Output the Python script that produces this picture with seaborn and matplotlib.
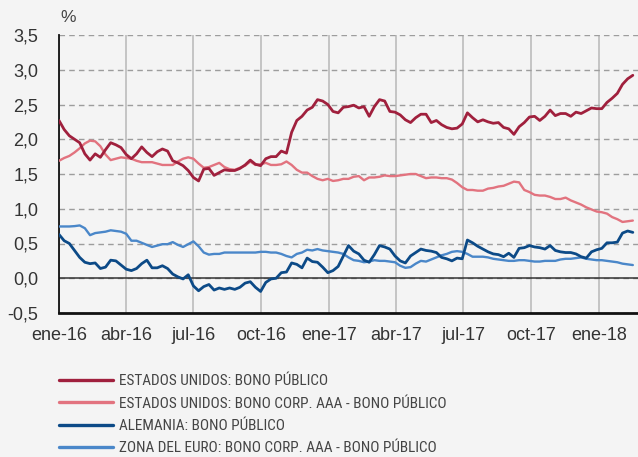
import numpy as np
import pandas as pd
import matplotlib
matplotlib.use("Agg")
import matplotlib.pyplot as plt
from matplotlib import font_manager as fm
import seaborn as sns

# ---------------- data (weekly readings, % ) ----------------
start_date = "2016-01-01"
n_weeks = 112

us_gov = [2.27, 2.14, 2.05, 2.00, 1.95, 1.79, 1.70, 1.79, 1.74, 1.85, 1.95, 1.92, 1.88, 1.78, 1.72, 1.79,
          1.89, 1.81, 1.75, 1.82, 1.86, 1.83, 1.69, 1.66, 1.62, 1.55, 1.45, 1.40, 1.57, 1.58, 1.48,
          1.52, 1.56, 1.55, 1.55, 1.58, 1.63, 1.70, 1.64, 1.62, 1.72, 1.75, 1.75, 1.83, 1.80, 2.10,
          2.27, 2.33, 2.42, 2.46, 2.57, 2.55, 2.50, 2.40, 2.38, 2.46, 2.47, 2.49, 2.45, 2.47, 2.33,
          2.47, 2.57, 2.55, 2.40, 2.39, 2.35, 2.28, 2.24, 2.31, 2.36, 2.36, 2.24, 2.27, 2.21, 2.17,
          2.15, 2.16, 2.22, 2.38, 2.31, 2.25, 2.28, 2.25, 2.23, 2.24, 2.17, 2.15, 2.07, 2.18, 2.24,
          2.32, 2.33, 2.27, 2.33, 2.42, 2.34, 2.37, 2.37, 2.33, 2.39, 2.37, 2.41, 2.45, 2.44, 2.44,
          2.53, 2.59, 2.66, 2.79, 2.87, 2.92]

us_corp = [1.69, 1.73, 1.76, 1.81, 1.87, 1.94, 1.98, 1.97, 1.90, 1.78, 1.70, 1.72, 1.74, 1.73, 1.72, 1.69,
           1.67, 1.67, 1.67, 1.65, 1.63, 1.63, 1.63, 1.68, 1.72, 1.74, 1.72, 1.65, 1.59, 1.60, 1.63,
           1.66, 1.60, 1.57, 1.56, 1.59, 1.62, 1.68, 1.63, 1.64, 1.66, 1.63, 1.63, 1.64, 1.68, 1.63,
           1.56, 1.52, 1.52, 1.47, 1.43, 1.41, 1.43, 1.40, 1.41, 1.43, 1.43, 1.46, 1.47, 1.41, 1.45,
           1.45, 1.46, 1.48, 1.47, 1.47, 1.48, 1.49, 1.50, 1.50, 1.47, 1.44, 1.45, 1.45, 1.44, 1.44,
           1.42, 1.37, 1.31, 1.27, 1.27, 1.26, 1.26, 1.29, 1.30, 1.32, 1.33, 1.36, 1.39, 1.38, 1.27,
           1.24, 1.20, 1.19, 1.19, 1.17, 1.14, 1.14, 1.16, 1.12, 1.09, 1.06, 1.02, 0.99, 0.96, 0.95,
           0.93, 0.88, 0.85, 0.81, 0.82, 0.83]

de_gov = [0.63, 0.54, 0.50, 0.40, 0.30, 0.23, 0.21, 0.22, 0.14, 0.16, 0.26, 0.25, 0.19, 0.13, 0.11, 0.14,
          0.21, 0.26, 0.15, 0.15, 0.18, 0.14, 0.06, 0.02, -0.01, 0.05, -0.11, -0.18, -0.12, -0.09, -0.17,
          -0.14, -0.16, -0.14, -0.16, -0.13, -0.07, -0.05, -0.13, -0.19, -0.06, -0.01, 0.00, 0.08, 0.09, 0.22,
          0.20, 0.15, 0.29, 0.24, 0.23, 0.16, 0.08, 0.11, 0.17, 0.32, 0.47, 0.39, 0.35, 0.26, 0.23,
          0.34, 0.47, 0.45, 0.42, 0.32, 0.25, 0.22, 0.32, 0.37, 0.42, 0.40, 0.39, 0.37, 0.30, 0.28,
          0.25, 0.29, 0.28, 0.55, 0.51, 0.46, 0.42, 0.38, 0.35, 0.34, 0.31, 0.36, 0.30, 0.43, 0.44,
          0.47, 0.45, 0.44, 0.42, 0.47, 0.40, 0.38, 0.37, 0.37, 0.35, 0.31, 0.29, 0.38, 0.41, 0.43,
          0.51, 0.51, 0.52, 0.65, 0.68, 0.66]

ez_corp = [0.745, 0.745, 0.745, 0.75, 0.76, 0.72, 0.62, 0.65, 0.66, 0.67, 0.69, 0.68, 0.67, 0.64, 0.54, 0.54,
           0.51, 0.48, 0.45, 0.47, 0.49, 0.49, 0.52, 0.48, 0.45, 0.49, 0.53, 0.46, 0.37, 0.34, 0.35,
           0.35, 0.37, 0.37, 0.37, 0.37, 0.37, 0.37, 0.37, 0.38, 0.38, 0.37, 0.37, 0.35, 0.32, 0.30,
           0.35, 0.37, 0.41, 0.40, 0.42, 0.40, 0.39, 0.38, 0.37, 0.35, 0.30, 0.26, 0.25, 0.23, 0.24,
           0.26, 0.25, 0.25, 0.24, 0.23, 0.18, 0.15, 0.16, 0.21, 0.25, 0.24, 0.27, 0.30, 0.33, 0.35,
           0.38, 0.39, 0.38, 0.35, 0.31, 0.31, 0.31, 0.30, 0.28, 0.27, 0.26, 0.25, 0.25, 0.26, 0.26,
           0.25, 0.24, 0.24, 0.25, 0.25, 0.25, 0.27, 0.28, 0.28, 0.29, 0.30, 0.28, 0.27, 0.26, 0.26,
           0.25, 0.24, 0.23, 0.21, 0.20, 0.19]

series_names = ["ESTADOS UNIDOS: BONO PÚBLICO",
                "ESTADOS UNIDOS: BONO CORP. AAA - BONO PÚBLICO",
                "ALEMANIA: BONO PÚBLICO",
                "ZONA DEL EURO: BONO CORP. AAA - BONO PÚBLICO"]
series_colors = ["#a0203d", "#e2737f", "#0c4a87", "#4a87c9"]

x_tick_dates = ["2016-01-01", "2016-04-01", "2016-07-01", "2016-10-01", "2017-01-01",
                "2017-04-01", "2017-07-01", "2017-10-01", "2018-01-01"]
x_tick_labels = ["ene-16", "abr-16", "jul-16", "oct-16", "ene-17",
                 "abr-17", "jul-17", "oct-17", "ene-18"]
y_ticks = [-0.5, 0.0, 0.5, 1.0, 1.5, 2.0, 2.5, 3.0, 3.5]
y_tick_labels = ["-0,5", "0,0", "0,5", "1,0", "1,5", "2,0", "2,5", "3,0", "3,5"]

# ---------------- build table ----------------
dates = pd.date_range(start_date, periods=n_weeks, freq="7D")
frames = []
for name, vals in zip(series_names, [us_gov, us_corp, de_gov, ez_corp]):
    frames.append(pd.DataFrame({"fecha": dates, "serie": name, "valor": vals}))
df = pd.concat(frames, ignore_index=True)

# ---------------- style ----------------
sns.set_theme(style="white")
bg = "#f4f4f4"
plt.rcParams["font.family"] = ["Liberation Sans", "DejaVu Sans"]

# find a condensed font for the legend
def find_condensed():
    prefs = ["robotocondensed-regular", "robotocondensed-light", "liberationsansnarrow-regular",
             "dejavusanscondensed.ttf", "opensans_condensed-regular", "opensanscondensed"]
    files = [f.fname for f in fm.fontManager.ttflist]
    low = {p.lower().replace(" ", "").replace("_", ""): p for p in files}
    for pref in prefs:
        key = pref.replace("_", "")
        for lp, p in low.items():
            if key in lp.split("/")[-1]:
                return p
    for p in files:
        b = p.lower().split("/")[-1]
        if ("narrow" in b or "condensed" in b) and "bold" not in b and "italic" not in b \
                and "oblique" not in b:
            return p
    return None

cond_path = find_condensed()

fig = plt.figure(figsize=(6.38, 4.57), dpi=100, facecolor=bg)
ax = fig.add_axes([59 / 638, 1 - 313 / 457, 1 - 59 / 638, (313 - 35) / 457])
ax.set_facecolor(bg)

sns.lineplot(data=df, x="fecha", y="valor", hue="serie", hue_order=series_names,
             palette=dict(zip(series_names, series_colors)), errorbar=None, ax=ax)

widths = [2.0, 1.7, 2.0, 1.7]
zorders = [5, 4, 5, 4]
for line, lw, zo in zip(ax.lines[:4], widths, zorders):
    line.set_linewidth(lw)
    line.set_zorder(zo)
    line.set_solid_joinstyle("round")

handles, labels = ax.get_legend_handles_labels()
ax.get_legend().remove()

# axes limits / ticks
ax.set_xlim(pd.Timestamp("2016-01-01"), pd.Timestamp("2018-02-23"))
ax.set_ylim(-0.5, 3.5)
ax.set_xticks(pd.to_datetime(x_tick_dates))
ax.set_xticklabels(x_tick_labels)
ax.set_yticks(y_ticks)
ax.set_yticklabels(y_tick_labels)
ax.set_xlabel("")
ax.set_ylabel("")

ax.tick_params(axis="x", direction="in", length=6, width=1.2, color="#8a8a8a",
               labelsize=13, labelcolor="#333333", pad=10)
ax.tick_params(axis="y", direction="in", length=4, width=1.0, color="#555555",
               labelsize=13, labelcolor="#333333", pad=15)

# grids
ax.grid(axis="x", color="#c4c4c4", linewidth=1.4, linestyle="-", zorder=0)
ax.grid(axis="y", color="#9d9d9d", linewidth=1.0, linestyle=(0, (4, 3)), zorder=0)
ax.set_axisbelow(True)
ax.axhline(0, color="#333333", linewidth=1.1, zorder=2)

for side in ["top", "right"]:
    ax.spines[side].set_visible(False)
ax.spines["left"].set_color("#111111")
ax.spines["left"].set_linewidth(1.3)
ax.spines["bottom"].set_color("#111111")
ax.spines["bottom"].set_linewidth(2.0)

fig.text(60 / 638, 1 - 17 / 457, "%", fontsize=12.5, color="#444444", va="center", ha="left")

# legend
for h in handles:
    h.set_linewidth(2.4)

def make_prop(size):
    if cond_path:
        return fm.FontProperties(fname=cond_path, size=size)
    return fm.FontProperties(family="Liberation Sans", size=size)

renderer = fig.canvas.get_renderer()
# size the font so the first label is about as wide as in the reference
size = 11.0
probe = fig.text(0, 0, series_names[0], fontproperties=make_prop(size))
w = probe.get_window_extent(renderer).width
probe.remove()
size = size * 208.0 / w
fpx = size * 100 / 72.0

target_row = 22.5  # px between row centres
leg = fig.legend(handles, labels, loc="upper left", bbox_to_anchor=(57 / 638, 1 - 372 / 457),
                 frameon=False, handlelength=54.0 / fpx, handletextpad=6.0 / fpx,
                 labelspacing=0.3, borderpad=0, borderaxespad=0, prop=make_prop(size))
fig.canvas.draw()
texts = leg.get_texts()
c0 = texts[0].get_window_extent(renderer)
c1 = texts[1].get_window_extent(renderer)
gap = (c0.y0 + c0.y1) / 2 - (c1.y0 + c1.y1) / 2
ls = 0.3 + (target_row - gap) / fpx
leg.remove()
leg = fig.legend(handles, labels, loc="upper left", bbox_to_anchor=(57 / 638, 1 - 372 / 457),
                 frameon=False, handlelength=54.0 / fpx, handletextpad=6.0 / fpx,
                 labelspacing=ls, borderpad=0, borderaxespad=0, prop=make_prop(size))
fig.canvas.draw()
texts = leg.get_texts()
c0 = texts[0].get_window_extent(renderer)
dy = (457 - 381) - (c0.y0 + c0.y1) / 2
dx = 119 - c0.x0
leg.set_bbox_to_anchor(((57 + dx) / 638, (457 - 372 + dy) / 457), transform=fig.transFigure)
for t in leg.get_texts():
    t.set_color("#444444")

fig.savefig("out.png", dpi=100, facecolor=bg)
